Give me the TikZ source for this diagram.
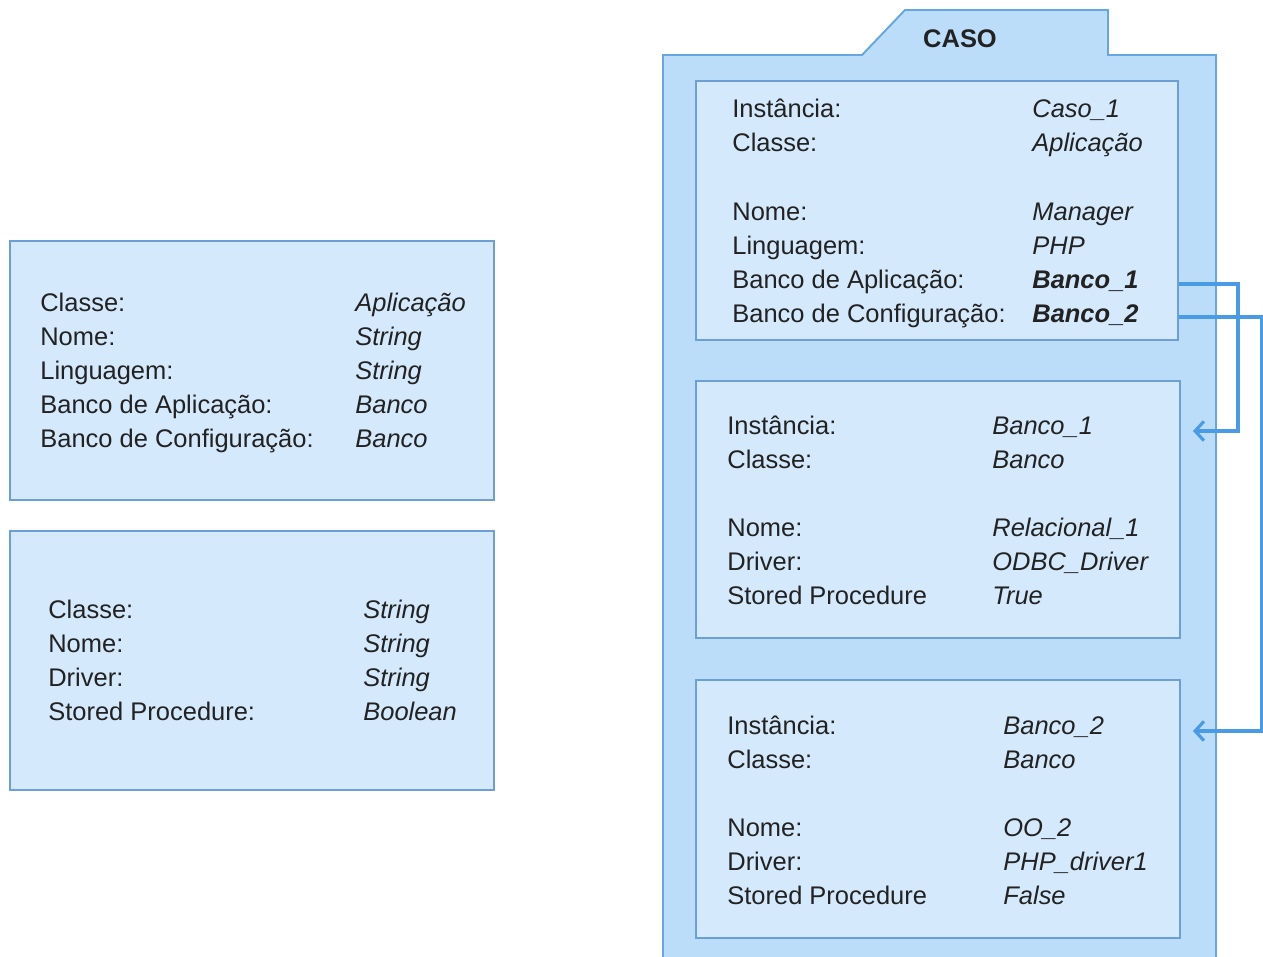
\documentclass[tikz,border=0pt]{standalone}
\usepackage{fontspec}
\setmainfont{Liberation Sans}
\usepackage{tikz}
\usetikzlibrary{arrows.meta, fit}

\definecolor{pkgfill}{HTML}{BBDDFA}
\definecolor{pkgline}{HTML}{66A6E3}
\definecolor{boxfill}{HTML}{D5E9FC}
\definecolor{boxline}{HTML}{6B9FD6}
\definecolor{linkblue}{HTML}{4A9BE6}
\definecolor{ink}{HTML}{222222}

\begin{document}
\begin{tikzpicture}[x=0.02cm, y=-0.02cm,
    >={Straight Barb[length=5pt, width=11pt]},
    pkg/.style={draw=pkgline, fill=pkgfill, line width=1.1pt},
    classbox/.style={draw=boxline, fill=boxfill, line width=1.1pt, inner sep=0pt},
    field/.style={anchor=base west, inner sep=0pt, text=ink,
                  font=\fontsize{14.5pt}{17pt}\selectfont},
    value/.style={field, font=\fontsize{14.5pt}{17pt}\selectfont\itshape},
    link/.style={->, draw=linkblue, line width=1.8pt, shorten >=0.24cm}]

    \useasboundingbox (0,0) rectangle (1263,956);

    % class definitions
    \node[classbox, fit={(10,241) (494,500)}] (classApp) {};
    \foreach \k/\v [count=\i] in {Classe:/Aplicação, Nome:/String, Linguagem:/String,
            Banco de Aplicação:/Banco, Banco de Configuração:/Banco} {
        \node[field] (appK\i) at (40, 277+34*\i) {\k};
        \node[value] (appV\i) at (355, 277+34*\i) {\v};
    }

    \node[classbox, fit={(10,531) (494,790)}] (classBanco) {};
    \foreach \k/\v [count=\i] in {Classe:/String, Nome:/String, Driver:/String,
            Stored Procedure:/Boolean} {
        \node[field] (bancoK\i) at (48, 584+34*\i) {\k};
        \node[value] (bancoV\i) at (363, 584+34*\i) {\v};
    }

    % the case package
    \draw[pkg] (663,1000) -- (663,55) -- (862,55) -- (905,10) -- (1108,10)
        -- (1108,55) -- (1216,55) -- (1216,1000) -- cycle;
    \node[text=ink, font=\fontsize{14.5pt}{17pt}\selectfont\bfseries] (caso) at (960,39) {CASO};

    \node[classbox, fit={(696,81) (1178,340)}] (instCaso) {};
    \foreach \i/\k/\v in {1/Instância:/Caso\_1, 2/Classe:/Aplicação, 4/Nome:/Manager,
            5/Linguagem:/PHP, 6/Banco de Aplicação:/\textbf{Banco\_1},
            7/Banco de Configuração:/\textbf{Banco\_2}} {
        \node[field] (casoK\i) at (732, 84+34*\i) {\k};
        \node[value] (casoV\i) at (1032, 84+34*\i) {\v};
    }

    \node[classbox, fit={(696,381) (1180,638)}] (instBancoA) {};
    \foreach \i/\k/\v in {1/Instância:/Banco\_1, 2/Classe:/Banco, 4/Nome:/Relacional\_1,
            5/Driver:/ODBC\_Driver, 6/Stored Procedure/True} {
        \node[field] (bancoAK\i) at (727, 400+34*\i) {\k};
        \node[value] (bancoAV\i) at (992, 400+34*\i) {\v};
    }

    \node[classbox, fit={(696,680) (1180,938)}] (instBancoB) {};
    \foreach \i/\k/\v in {1/Instância:/Banco\_2, 2/Classe:/Banco, 4/Nome:/OO\_2,
            5/Driver:/PHP\_driver1, 6/Stored Procedure/False} {
        \node[field] (bancoBK\i) at (727, 700+34*\i) {\k};
        \node[value] (bancoBV\i) at (1003, 700+34*\i) {\v};
    }

    % references between instances
    \coordinate (bendA) at (1238,0);
    \coordinate (bendB) at (1262,0);
    \draw[link] ([yshift=0.08cm]instCaso.east |- casoV6.base) -- ([yshift=0.08cm]bendA |- casoV6.base)
        -- ([yshift=0.06cm]bendA |- bancoAV1.base) -- ([yshift=0.06cm]instBancoA.east |- bancoAV1.base);
    \draw[link] ([yshift=0.1cm]instCaso.east |- casoV7.base) -- ([yshift=0.1cm]bendB |- casoV7.base)
        -- ([yshift=0.06cm]bendB |- bancoBV1.base) -- ([yshift=0.06cm]instBancoB.east |- bancoBV1.base);
\end{tikzpicture}
\end{document}
